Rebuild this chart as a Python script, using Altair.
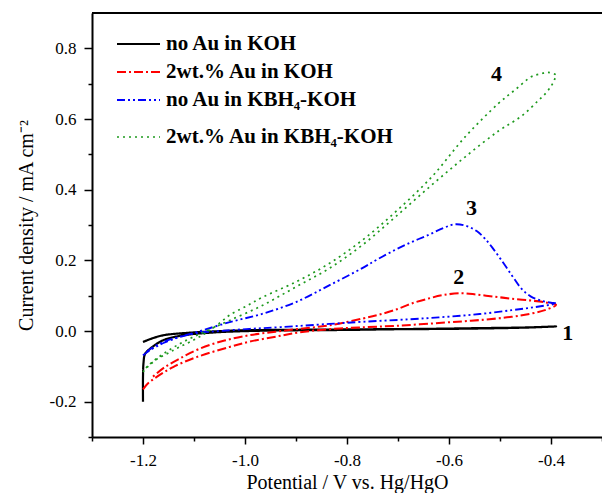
import altair as alt
import pandas as pd

# ---------------- data ----------------
series_names = ["no Au in KOH", "2wt.% Au in KOH", "no Au in KBH₄-KOH", "2wt.% Au in KBH₄-KOH"]

# curve 1: no Au in KOH (forward then reverse)
v1 = [-1.2, -1.2, -1.199, -1.196, -1.186, -1.16, -1.12, -1.06, -0.99, -0.9, -0.8, -0.7, -0.6, -0.5, -0.44, -0.39,
      -0.45, -0.55, -0.65, -0.75, -0.85, -0.95, -1.0, -1.06, -1.12, -1.16, -1.18, -1.2]
j1 = [-0.2, -0.13, -0.09, -0.065, -0.05, -0.026, -0.012, -0.004, 0.0, 0.002, 0.003, 0.005, 0.006, 0.008, 0.01, 0.013,
      0.01, 0.008, 0.006, 0.005, 0.004, 0.003, 0.002, -0.001, -0.006, -0.012, -0.02, -0.031]

# curve 2: 2wt.% Au in KOH
v2 = [-1.2, -1.19, -1.173, -1.141, -1.095, -1.03, -0.991, -0.94, -0.894, -0.835, -0.777, -0.7, -0.607, -0.54, -0.477,
      -0.44, -0.412, -0.39,
      -0.41, -0.445, -0.48, -0.51, -0.545, -0.575, -0.61, -0.64, -0.673, -0.705, -0.738, -0.77, -0.835, -0.894, -0.94,
      -0.991, -1.04, -1.089, -1.128, -1.16, -1.185]
j2 = [-0.165, -0.148, -0.13, -0.102, -0.074, -0.045, -0.03, -0.016, -0.004, 0.005, 0.01, 0.015, 0.024, 0.031, 0.04,
      0.049, 0.059, 0.074,
      0.081, 0.087, 0.092, 0.097, 0.103, 0.107, 0.102, 0.092, 0.078, 0.06, 0.046, 0.035, 0.016, 0.006, -0.002,
      -0.012, -0.027, -0.05, -0.078, -0.105, -0.135]

# curve 3: no Au in KBH4-KOH
v3 = [-1.2, -1.19, -1.175, -1.16, -1.13, -1.095, -1.05, -0.991, -0.93, -0.835, -0.77, -0.679, -0.607, -0.54, -0.477,
      -0.43, -0.39,
      -0.4, -0.42, -0.44, -0.458, -0.477, -0.497, -0.515, -0.53, -0.545, -0.565, -0.588, -0.61, -0.64, -0.673, -0.705,
      -0.74, -0.77, -0.835, -0.9, -0.965, -1.03, -1.095, -1.13, -1.16, -1.185, -1.2]
j3 = [-0.069, -0.058, -0.045, -0.034, -0.018, -0.006, 0.0, 0.006, 0.011, 0.02, 0.026, 0.033, 0.04, 0.048, 0.059,
      0.068, 0.078,
      0.08, 0.086, 0.098, 0.12, 0.158, 0.2, 0.236, 0.262, 0.282, 0.297, 0.302, 0.292, 0.272, 0.252, 0.23,
      0.203, 0.178, 0.129, 0.082, 0.049, 0.025, -0.003, -0.017, -0.031, -0.05, -0.069]

# curve 4: 2wt.% Au in KBH4-KOH
v4 = [-1.2, -1.19, -1.173, -1.15, -1.128, -1.1, -1.076, -1.05, -1.03, -0.998, -0.965, -0.9, -0.835, -0.77, -0.705,
      -0.634, -0.568, -0.503, -0.47, -0.438, -0.42, -0.406, -0.39,
      -0.393, -0.399, -0.409, -0.425, -0.458, -0.503, -0.568, -0.634, -0.705, -0.77, -0.835, -0.9, -0.965, -1.03,
      -1.076, -1.12, -1.15, -1.175, -1.19, -1.2]
j4 = [-0.116, -0.1, -0.08, -0.062, -0.045, -0.025, -0.005, 0.022, 0.045, 0.07, 0.096, 0.139, 0.191, 0.257, 0.337,
      0.436, 0.55, 0.644, 0.683, 0.72, 0.728, 0.732, 0.724,
      0.712, 0.695, 0.675, 0.652, 0.608, 0.566, 0.493, 0.413, 0.323, 0.243, 0.177, 0.125, 0.073, 0.03,
      0.0, -0.03, -0.055, -0.08, -0.098, -0.116]

# curve number annotations
ann_text = ["1", "2", "3", "4"]
ann_v = [-0.367, -0.581, -0.556, -0.507]
ann_j = [-0.007, 0.153, 0.347, 0.727]

x_major = [-1.2, -1.0, -0.8, -0.6, -0.4]
x_minor = [-1.3, -1.1, -0.9, -0.7, -0.5, -0.3]
y_major = [-0.2, 0.0, 0.2, 0.4, 0.6, 0.8]
y_minor = [-0.3, -0.1, 0.1, 0.3, 0.5, 0.7]

# ---------------- build tables ----------------
rows = []
for name, vs, js in zip(series_names, [v1, v2, v3, v4], [j1, j2, j3, j4]):
    for i, (v, j) in enumerate(zip(vs, js)):
        rows.append({"series": name, "i": i, "V": v, "J": j})
df = pd.DataFrame(rows)

ann_df = pd.DataFrame({"t": ann_text, "V": ann_v, "J": ann_j})

# legend layout (pixel rows inside the plot area)
legend_rows_px = [31, 59, 87, 124]
leg_df = pd.DataFrame({"series": series_names, "py": legend_rows_px})

# ---------------- styles ----------------
SERIF = "Liberation Serif"
colors = ["#000000", "#ff0000", "#0000ff", "#1e9a1e"]
dashes = [[1, 0], [9, 3, 2, 3], [8, 3, 2, 3, 2, 3], [2, 4]]
widths = [2.2, 1.7, 1.7, 2.0]

color_scale = alt.Scale(domain=series_names, range=colors)
dash_scale = alt.Scale(domain=series_names, range=dashes)
width_scale = alt.Scale(domain=series_names, range=widths)
xscale = alt.Scale(domain=[-1.3, -0.3], nice=False, zero=False)
yscale = alt.Scale(domain=[-0.3, 0.9], nice=False, zero=False)

label_expr = "replace(format(datum.value, '.1f'), '\u2212', '-')"
axis_common = dict(labelFont=SERIF, labelFontSize=17, labelColor="black",
                   titleFont=SERIF, titleFontSize=20, titleFontWeight="normal", titleColor="black")

lines = alt.Chart(df).mark_line(interpolate="catmull-rom").encode(
    x=alt.X("V:Q", scale=xscale,
            axis=alt.Axis(values=x_major, labelExpr=label_expr, tickSize=7, orient="bottom",
                          labelPadding=8, title="Potential / V vs. Hg/HgO", titlePadding=4, **axis_common)),
    y=alt.Y("J:Q", scale=yscale,
            axis=alt.Axis(values=y_major, labelExpr=label_expr, tickSize=8, orient="left",
                          labelPadding=8, title="Current density / mA cm\u207b\u00b2", titlePadding=13,
                          **axis_common)),
    color=alt.Color("series:N", scale=color_scale, legend=None),
    strokeDash=alt.StrokeDash("series:N", scale=dash_scale, legend=None),
    strokeWidth=alt.StrokeWidth("series:N", scale=width_scale, legend=None),
    order=alt.Order("i:Q"),
)

frame = alt.Chart(pd.DataFrame({"k": [0]})).mark_rule(color="black", strokeWidth=2).encode(
    x=alt.XDatum(-1.3, axis=alt.Axis(values=x_minor, tickSize=4, labels=False, domain=False,
                                     title="", orient="bottom")),
    x2=alt.X2Datum(-0.3),
    y=alt.YDatum(0.9, axis=alt.Axis(values=y_minor, tickSize=4, labels=False, domain=False,
                                    title="", orient="left")),
)

ann = alt.Chart(ann_df).mark_text(font=SERIF, fontSize=22, fontWeight="bold", color="black").encode(
    x=alt.X("V:Q", axis=None),
    y=alt.Y("J:Q", axis=None),
    text="t:N",
)

leg_lines = alt.Chart(leg_df).mark_rule().encode(
    x=alt.value(25), x2=alt.value(68),
    y=alt.Y("py:Q", scale=None),
    color=alt.Color("series:N", scale=color_scale, legend=None),
    strokeDash=alt.StrokeDash("series:N", scale=dash_scale, legend=None),
    strokeWidth=alt.StrokeWidth("series:N", scale=width_scale, legend=None),
)

leg_text = alt.Chart(leg_df).mark_text(align="left", baseline="middle", font=SERIF, fontSize=21,
                                       fontWeight="bold", color="black").encode(
    x=alt.value(74),
    y=alt.Y("py:Q", scale=None),
    text="series:N",
)

chart = alt.layer(lines, frame, ann, leg_lines, leg_text).resolve_axis(
    x="independent", y="independent"
).properties(
    width=510, height=424,
    autosize=alt.AutoSizeParams(type="none"),
    padding={"left": 84, "top": 5, "right": 0, "bottom": 56},
).configure_view(stroke=None).configure_axis(
    grid=False, domainColor="black", domainWidth=2, tickColor="black", tickWidth=1.5,
    labelFont=SERIF, labelFontSize=17, labelColor="black",
    titleFont=SERIF, titleFontSize=20, titleFontWeight="normal", titleColor="black",
)

chart.save("out.html", embed_options={"renderer": "svg", "actions": False})
